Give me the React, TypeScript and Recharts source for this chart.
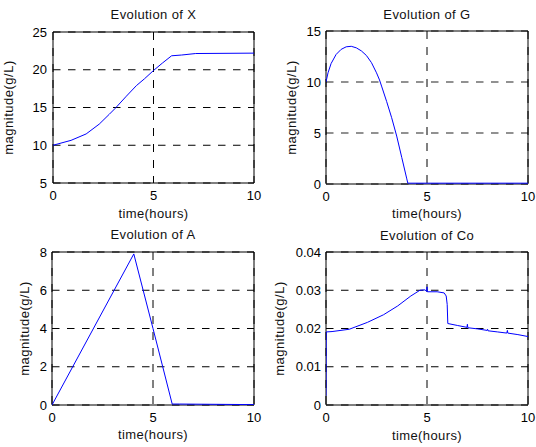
import { LineChart, Line, XAxis, YAxis, CartesianGrid, ReferenceArea } from "recharts";

// time axis (hours) shared by all panels
const timeTicks = [0, 5, 10];

// Evolution of X
const tX = [0, 0.9, 1.65, 2.3, 2.8, 3.1, 3.65, 4.15, 4.55, 5.0, 5.45, 5.9, 6.4, 7.1, 10];
const X = [10, 10.65, 11.5, 12.8, 14.1, 14.9, 16.5, 17.9, 18.8, 19.9, 20.9, 21.85, 21.95, 22.15, 22.2];
const xTicks = [5, 10, 15, 20, 25];

// Evolution of G
const tG = [0, 0.1, 0.25, 0.5, 0.75, 1.0, 1.25, 1.5, 1.75, 2.0, 2.25, 2.5, 2.65, 2.75, 3.0, 3.25, 3.5, 3.75, 4.0, 4.05, 10];
const G = [10, 10.9, 11.8, 12.7, 13.2, 13.45, 13.5, 13.35, 13.05, 12.6, 11.9, 10.9, 10.2, 9.6, 8.1, 6.5, 4.7, 2.6, 0.5, 0.08, 0.08];
const gTicks = [0, 5, 10, 15];

// Evolution of A
const tA = [0, 4.05, 5.0, 5.95, 6.3, 10];
const A = [0, 7.9, 4.0, 0.05, 0.05, 0.02];
const aTicks = [0, 2, 4, 6, 8];

// Evolution of Co
const tCo = [0, 0.01, 0.3, 1.15, 2.05, 2.85, 3.55, 4.2, 4.65, 4.9, 4.98, 5.0, 5.02, 5.5, 5.85, 5.95, 6.0, 6.03, 6.5, 6.98, 7.0, 7.02, 7.5, 7.98, 8.0, 8.02, 8.5, 8.95, 8.98, 9.0, 9.5, 10];
const Co = [0.0024, 0.0191, 0.0192, 0.0198, 0.0216, 0.0236, 0.0259, 0.0285, 0.03, 0.0301, 0.0297, 0.0309, 0.0296, 0.0296, 0.0293, 0.0285, 0.0263, 0.0213, 0.0208, 0.0203, 0.0211, 0.0202, 0.0199, 0.0195, 0.0198, 0.0194, 0.0191, 0.0188, 0.0195, 0.0188, 0.0184, 0.0179];
const coTicks = [0, 0.01, 0.02, 0.03, 0.04];

const FONT = "'Liberation Sans', Arial, sans-serif";

type PanelProps = {
  left: number;
  top: number;
  height: number;
  yAxisWidth: number;
  marginTop: number;
  marginRight: number;
  xAxisHeight: number;
  tickGap: number;
  t: number[];
  v: number[];
  ticks: number[];
  hGridColor?: string;
  hGridWidth?: number;
  fmt?: (n: number) => string;
};

function Panel(p: PanelProps) {
  const data = p.t.map((t, i) => ({ t, v: p.v[i] }));
  const yMin = p.ticks[0];
  const yMax = p.ticks[p.ticks.length - 1];
  return (
    <div style={{ position: "absolute", left: p.left, top: p.top }}>
      <LineChart
        width={268}
        height={p.height}
        data={data}
        margin={{ top: p.marginTop, right: p.marginRight, bottom: 0, left: 0 }}
      >
        <CartesianGrid
          vertical={false}
          stroke={p.hGridColor ?? "#000"}
          strokeWidth={p.hGridWidth ?? 1}
          strokeDasharray="7.5 7.5"
        />
        <CartesianGrid horizontal={false} stroke="#000" strokeDasharray="8 8" />
        <XAxis
          type="number"
          dataKey="t"
          domain={[0, 10]}
          ticks={timeTicks}
          allowDataOverflow
          height={p.xAxisHeight}
          axisLine={false}
          tickLine={false}
          tickSize={0}
          tickMargin={8}
          tick={{ fill: "#000", fontSize: 13, fontFamily: FONT }}
        />
        <YAxis
          type="number"
          domain={[yMin, yMax]}
          ticks={p.ticks}
          allowDataOverflow
          width={p.yAxisWidth}
          axisLine={false}
          tickLine={false}
          tickSize={0}
          tickMargin={p.tickGap}
          tickFormatter={p.fmt}
          tick={{ fill: "#000", fontSize: 13, fontFamily: FONT }}
        />
        <ReferenceArea x1={0} x2={10} y1={yMin} y2={yMax} fill="none" fillOpacity={0} stroke="#000" strokeWidth={1} />
        <Line type="linear" dataKey="v" stroke="#0000ff" strokeWidth={1} dot={false} isAnimationActive={false} />
      </LineChart>
    </div>
  );
}

function Title({ text, cx, top }: { text: string; cx: number; top: number }) {
  return (
    <div
      style={{
        position: "absolute",
        left: cx - 100,
        top,
        width: 200,
        textAlign: "center",
        fontFamily: FONT,
        fontSize: 13,
        lineHeight: "13px",
        letterSpacing: 0.4,
        color: "#111",
        whiteSpace: "nowrap",
      }}
    >
      {text}
    </div>
  );
}

function YLabel({ cx, cy }: { cx: number; cy: number }) {
  return (
    <div
      style={{
        position: "absolute",
        left: cx - 60,
        top: cy - 6.5,
        width: 120,
        textAlign: "center",
        fontFamily: FONT,
        fontSize: 13,
        lineHeight: "13px",
        letterSpacing: 0.5,
        color: "#111",
        whiteSpace: "nowrap",
        transform: "rotate(-90deg)",
      }}
    >
      magnitude(g/L)
    </div>
  );
}

export default function App() {
  return (
    <div style={{ position: "absolute", left: 0, top: 0, width: 536, height: 447, background: "#fff", overflow: "hidden" }}>
      <Panel left={0} top={0} height={224} yAxisWidth={53} marginTop={32} marginRight={14} xAxisHeight={41} tickGap={6} t={tX} v={X} ticks={xTicks} />
      <Panel left={268} top={0} height={224} yAxisWidth={58} marginTop={31} marginRight={8} xAxisHeight={40} tickGap={5} t={tG} v={G} ticks={gTicks} hGridColor="#6e6e6e" hGridWidth={1.5} />
      <Panel left={0} top={224} height={223} yAxisWidth={52} marginTop={28} marginRight={14} xAxisHeight={42} tickGap={5} t={tA} v={A} ticks={aTicks} />
      <Panel left={268} top={224} height={223} yAxisWidth={58} marginTop={28} marginRight={8} xAxisHeight={42} tickGap={5} t={tCo} v={Co} ticks={coTicks} fmt={(n) => (n === 0 ? "0" : n.toFixed(2))} />

      <Title text="Evolution of X" cx={153.5} top={8} />
      <Title text="Evolution of G" cx={427} top={8} />
      <Title text="Evolution of A" cx={153} top={228.4} />
      <Title text="Evolution of Co" cx={427} top={228.6} />

      <Title text="time(hours)" cx={153.5} top={206.6} />
      <Title text="time(hours)" cx={427} top={206.6} />
      <Title text="time(hours)" cx={153} top={427.5} />
      <Title text="time(hours)" cx={427} top={428.5} />

      <YLabel cx={7.8} cy={107.5} />
      <YLabel cx={290.8} cy={107.5} />
      <YLabel cx={23.5} cy={328.5} />
      <YLabel cx={279} cy={328.5} />
    </div>
  );
}
